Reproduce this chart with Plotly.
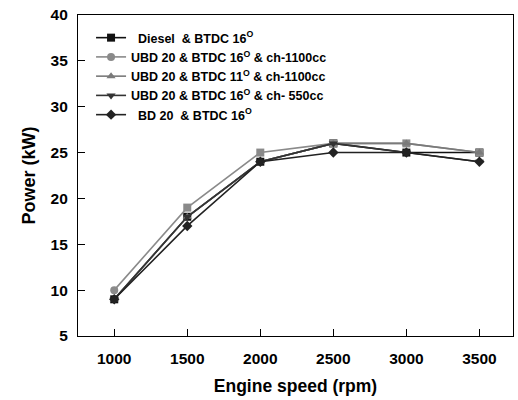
import plotly.graph_objects as go

speed = [1000, 1500, 2000, 2500, 3000, 3500]
names = [
    "  Diesel  & BTDC 16<sup>O</sup>",
    "UBD 20 & BTDC 16<sup>O</sup> & ch-1100cc",
    "UBD 20 & BTDC 11<sup>O</sup> & ch-1100cc",
    "UBD 20 & BTDC 16<sup>O</sup> & ch- 550cc",
    "  BD 20  & BTDC 16<sup>O</sup>",
]
diesel = [9, 18, 24, 26, 25, 25]
ubd16_1100 = [10, 19, 25, 26, 26, 25]
ubd11_1100 = [9, 18, 24, 26, 26, 25]
ubd16_550 = [9, 18, 24, 26, 25, 24]
bd20 = [9, 17, 24, 25, 25, 24]

series = [diesel, ubd16_1100, ubd11_1100, ubd16_550, bd20]
colors = ["#111111", "#8a8a8a", "#7a7a7a", "#333333", "#222222"]
symbols = [
    "square",
    ["circle", "square", "square", "square", "square", "square"],
    "triangle-up",
    "triangle-down",
    "diamond",
]

fig = go.Figure()
for nm, ys, c, s in zip(names, series, colors, symbols):
    fig.add_trace(go.Scatter(
        x=speed, y=ys, name=nm, mode="lines+markers",
        line=dict(color=c, width=1.6),
        marker=dict(symbol=s, size=8, color=c),
    ))

FONT = "Liberation Sans, Arial"
axis_common = dict(
    showline=True, linecolor="black", linewidth=1.2, mirror=True,
    ticks="inside", ticklen=7, tickcolor="black", tickwidth=1.2,
    showgrid=False, zeroline=False,
    tickfont=dict(family=FONT, size=15.5, color="black", weight="bold"),
)
fig.update_xaxes(
    range=[752, 3730], tickvals=speed, ticklabelstandoff=8, **axis_common,
    title=dict(text="<b>Engine speed (rpm)</b>", font=dict(family=FONT, size=17.5, color="black"), standoff=14),
)
fig.update_yaxes(
    range=[5, 40], dtick=5, ticklabelstandoff=6, **axis_common,
    title=dict(text="<b>Power (kW)</b>", font=dict(family=FONT, size=18, color="black"), standoff=10),
)
fig.update_layout(
    width=518, height=400,
    margin=dict(l=78, r=5, t=15, b=64),
    plot_bgcolor="white", paper_bgcolor="white",
    legend=dict(
        x=0.03, y=0.975, xanchor="left", yanchor="top",
        bgcolor="rgba(0,0,0,0)", borderwidth=0,
        font=dict(family=FONT, size=12.5, color="black", weight="bold"),
        itemwidth=30, tracegroupgap=3,
    ),
)
fig.write_html("out.html")
